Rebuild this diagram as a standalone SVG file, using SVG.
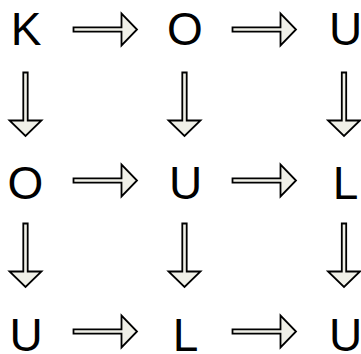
<svg xmlns="http://www.w3.org/2000/svg" width="361" height="354" viewBox="0 0 361 354">
<defs>
<style>
.t{font-family:"Liberation Sans",Arial,sans-serif;font-size:46px;fill:#000;text-anchor:middle}
.a{fill:#f0f0e8;stroke:#000;stroke-width:1.8;stroke-linejoin:miter}
</style>
<path id="ha" d="M -32,-2.2 H 16 V -16 L 31.5,0 L 16,16 V 2.2 H -32 Z"/>
<path id="va" d="M -2.2,-32 V 16 H -16 L 0,31.5 L 16,16 H 2.2 V -32 Z"/>
</defs>
<rect width="361" height="354" fill="#fff"/>
<g id="connectors">
<use href="#ha" class="a" x="105.5" y="29.5"/>
<use href="#ha" class="a" x="264.5" y="29.5"/>
<use href="#ha" class="a" x="105.5" y="180.5"/>
<use href="#ha" class="a" x="264.5" y="180.5"/>
<use href="#ha" class="a" x="105.5" y="331.5"/>
<use href="#ha" class="a" x="264.5" y="331.5"/>
<use href="#va" class="a" x="25.5" y="104.5"/>
<use href="#va" class="a" x="184.5" y="104.5"/>
<use href="#va" class="a" x="344" y="104.5"/>
<use href="#va" class="a" x="25.5" y="255.5"/>
<use href="#va" class="a" x="184.5" y="255.5"/>
<use href="#va" class="a" x="344" y="255.5"/>
</g>
<g id="n11"><text class="t" x="26" y="45">K</text></g>
<g id="n12"><text class="t" x="185" y="45">O</text></g>
<g id="n13"><text class="t" x="345.5" y="45">U</text></g>
<g id="n21"><text class="t" x="25.5" y="198.5">O</text></g>
<g id="n22"><text class="t" x="185.5" y="198.5">U</text></g>
<g id="n23"><text class="t" x="345.5" y="198.5">L</text></g>
<g id="n31"><text class="t" x="26" y="350.5">U</text></g>
<g id="n32"><text class="t" x="185.5" y="350.5">L</text></g>
<g id="n33"><text class="t" x="345.5" y="350.5">U</text></g>
</svg>
